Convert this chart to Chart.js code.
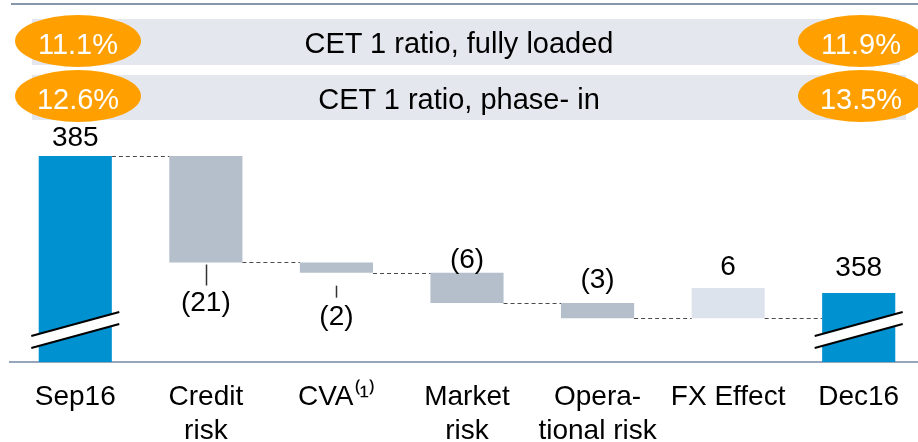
<!DOCTYPE html>
<html lang="en">
<head>
<meta charset="UTF-8">
<title>RWA bridge Sep16 - Dec16</title>
<script src="https://cdn.jsdelivr.net/npm/chart.js@4.4.0/dist/chart.umd.min.js"></script>
<style>
  html, body { margin: 0; padding: 0; width: 918px; height: 442px; overflow: hidden; background: #fff; }
  body { position: relative; font-family: 'Liberation Sans', Arial, sans-serif; }
  #wrap { position: absolute; left: 0; top: 0; width: 925px; height: 442px; }
  .topline { position: absolute; left: 11px; top: 3px; width: 907px; height: 2px; background: #8797ab; }
  .band { position: absolute; left: 32px; background: #e4e8ee; }
  .band-text { position: absolute; left: 0; width: 918px; height: 46px; line-height: 46px; text-align: center; font-size: 29px; color: #000; }
  .pill { position: absolute; width: 126px; height: 52px; border-radius: 50%; background: #ffa000;
          color: #fff; font-size: 29px; text-align: center; line-height: 58px; }
</style>
</head>
<body>
<div id="wrap"><canvas id="chart" width="925" height="442"></canvas></div>

<div class="topline"></div>
<div class="band" style="top:19px; width:868px; height:46px;"></div>
<div class="band" style="top:75px; width:874px; height:45px;"></div>
<div class="band-text" style="top:20px;">CET 1 ratio, fully loaded</div>
<div class="band-text" style="top:76px;">CET 1 ratio, phase- in</div>
<div class="pill" style="left:15px; top:15px;">11.1%</div>
<div class="pill" style="left:798px; top:15px;">11.9%</div>
<div class="pill" style="left:15px; top:70px;">12.6%</div>
<div class="pill" style="left:798px; top:70px;">13.5%</div>

<script>
// data
const categories = ['Sep16', ['Credit', 'risk'], 'CVA⁽¹⁾', ['Market', 'risk'], ['Opera-', 'tional risk'], 'FX Effect', 'Dec16'];
const startValue = 385;
const endValue = 358;
const movements = [-21, -2, -6, -3, 6];

const FONT = "'Liberation Sans', Arial, sans-serif";
const BLUE = '#0091d1';
const GREY = '#b4bfcb';
const LIGHT = '#dde3ed';

// broken axis: bars start from here, not from zero
const Y_MIN = 344.4;
const Y_MAX = 390.1;

// build floating bars
let running = startValue;
const bars = [[Y_MIN, startValue]];
const levels = [startValue];
movements.forEach(m => {
    const next = running + m;
    bars.push([Math.min(running, next), Math.max(running, next)]);
    running = next;
    levels.push(next);
});
bars.push([Y_MIN, endValue]);

const amounts = [startValue, ...movements, endValue];
const colors = amounts.map((v, i) => (i === 0 || i === amounts.length - 1) ? BLUE : (v < 0 ? GREY : LIGHT));
// dashed connector heights between neighbouring bars
const connectorLevels = levels.slice(0, movements.length).concat([bars[movements.length][0]]);

function fmt(v) {
    return v < 0 ? '(' + (-v) + ')' : String(v);
}

// where each value label sits (side of bar, distance in px, optional tick line)
const labelPlacement = [
    { side: 'top', off: 18 },
    { side: 'bottom', off: 41, tick: [2, 23] },
    { side: 'bottom', off: 45, tick: [13, 25] },
    { side: 'top', off: 12 },
    { side: 'top', off: 23 },
    { side: 'top', off: 21 },
    { side: 'top', off: 25 }
];

const waterfallExtras = {
    id: 'waterfallExtras',
    afterDatasetsDraw(chart) {
        const ctx = chart.ctx;
        const meta = chart.getDatasetMeta(0);
        const y = chart.scales.y;
        const area = chart.chartArea;
        ctx.save();

        // connectors
        ctx.strokeStyle = '#4a4a4a';
        ctx.lineWidth = 1;
        ctx.setLineDash([4, 3]);
        for (let i = 0; i < meta.data.length - 1; i++) {
            const a = meta.data[i], b = meta.data[i + 1];
            const py = Math.round(y.getPixelForValue(connectorLevels[i])) + 0.5;
            ctx.beginPath();
            ctx.moveTo(a.x + a.width / 2, py);
            ctx.lineTo(b.x - b.width / 2, py);
            ctx.stroke();
        }
        ctx.setLineDash([]);

        // axis break marks on the two totals
        [0, meta.data.length - 1].forEach(i => {
            const cx = meta.data[i].x;
            const base = area.bottom;
            const x1 = cx - 44, x2 = cx + 44;
            const y1 = base - 26, y2 = base - 50;
            ctx.fillStyle = '#fff';
            ctx.beginPath();
            ctx.moveTo(x1, y1);
            ctx.lineTo(x2, y2);
            ctx.lineTo(x2, y2 + 12);
            ctx.lineTo(x1, y1 + 12);
            ctx.closePath();
            ctx.fill();
            ctx.strokeStyle = '#000';
            ctx.lineWidth = 2;
            ctx.beginPath();
            ctx.moveTo(x1, y1); ctx.lineTo(x2, y2);
            ctx.moveTo(x1, y1 + 12); ctx.lineTo(x2, y2 + 12);
            ctx.stroke();
        });

        // value labels
        ctx.font = '28px ' + FONT;
        ctx.fillStyle = '#000';
        ctx.textAlign = 'center';
        ctx.textBaseline = 'middle';
        meta.data.forEach((bar, i) => {
            const p = labelPlacement[i];
            const top = Math.min(bar.y, bar.base);
            const bottom = Math.max(bar.y, bar.base);
            let ly;
            if (p.side === 'top') {
                ly = top - p.off;
            } else {
                ly = bottom + p.off;
                if (p.tick) {
                    ctx.strokeStyle = '#333';
                    ctx.lineWidth = 1.5;
                    ctx.beginPath();
                    ctx.moveTo(Math.round(bar.x) + 0.5, bottom + p.tick[0]);
                    ctx.lineTo(Math.round(bar.x) + 0.5, bottom + p.tick[1]);
                    ctx.stroke();
                }
            }
            ctx.fillText(fmt(amounts[i]), bar.x, ly);
        });

        ctx.restore();
    }
};

new Chart(document.getElementById('chart'), {
    type: 'bar',
    data: {
        labels: categories,
        datasets: [{
            data: bars,
            backgroundColor: colors,
            borderWidth: 0,
            barPercentage: 0.56,
            categoryPercentage: 1
        }]
    },
    options: {
        responsive: false,
        animation: false,
        layout: { padding: { top: 130, left: 10, right: 1, bottom: 0 } },
        plugins: {
            legend: { display: false },
            tooltip: { enabled: false }
        },
        scales: {
            x: {
                grid: { display: false, drawTicks: false },
                border: { display: true, color: '#96a5b9', width: 2 },
                ticks: {
                    color: '#000',
                    padding: 18,
                    maxRotation: 0,
                    autoSkip: false,
                    font: { family: FONT, size: 28, lineHeight: 1.214 }
                },
                afterFit(scale) { scale.height = 80; }
            },
            y: { display: false, min: Y_MIN, max: Y_MAX }
        }
    },
    plugins: [waterfallExtras]
});
</script>
</body>
</html>
